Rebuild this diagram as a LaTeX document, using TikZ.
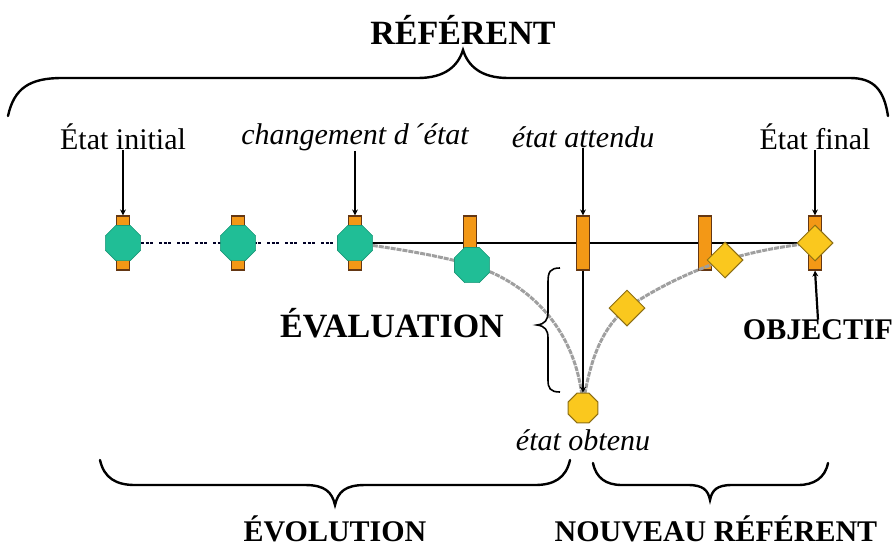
\documentclass[tikz,border=0pt]{standalone}
\usepackage{fontspec}
\setmainfont{Liberation Serif}
\usetikzlibrary{shapes.geometric,arrows.meta}
\definecolor{orangebar}{RGB}{243,152,22}
\definecolor{orangeedge}{RGB}{100,55,20}
\definecolor{greenhex}{RGB}{32,190,150}
\definecolor{yellowst}{RGB}{250,200,30}
\definecolor{yellowedge}{RGB}{140,110,20}
\tikzset{
  lbl/.style={font=\fontsize{30}{32}\selectfont, inner sep=0pt},
  ilbl/.style={font=\fontsize{30}{32}\selectfont\itshape, inner sep=0pt},
  blbl/.style={font=\fontsize{30}{32}\selectfont\bfseries, inner sep=0pt},
  bar/.style={rectangle, draw=orangeedge, line width=1.2pt, fill=orangebar, minimum width=13pt, minimum height=54pt, inner sep=0pt},
  hexg/.style={regular polygon, regular polygon sides=8, fill=greenhex, draw=greenhex!80!black, line width=0.6pt, minimum size=38pt, inner sep=0pt},
  yoct/.style={regular polygon, regular polygon sides=8, fill=yellowst, draw=yellowedge, line width=1pt, minimum size=32pt, inner sep=0pt},
  ydia/.style={diamond, fill=yellowst, draw=yellowedge, line width=1pt, minimum size=36pt, inner sep=0pt},
  mainline/.style={line width=2.4pt, black},
  dotline/.style={line width=2.4pt, black!85!blue, dash pattern=on 3pt off 1.5pt on 3pt off 1.5pt on 3pt off 6pt},
  grayline/.style={line width=3pt, gray!75, dash pattern=on 5pt off 1pt},
  arr/.style={line width=2.2pt, -{Stealth[length=6pt,width=6pt]}},
  bracel/.style={line width=2.4pt, black, line cap=round}
}
\begin{document}
\begin{tikzpicture}[x=1pt,y=-1pt]
\useasboundingbox (0,0) rectangle (894,550);
% titles
\node[blbl, font=\fontsize{34}{36}\selectfont\bfseries] (ref) at (463,30) {RÉFÉRENT};
\draw[bracel] (8,116) .. controls (14,88) and (30,78) .. (62,78) -- (418,78) .. controls (445,78) and (458,66) .. (463,50) .. controls (468,66) and (481,78) .. (508,78) -- (850,78) .. controls (874,78) and (884,90) .. (888,116);
% labels
\node[lbl] (init) at (123,137) {État initial};
\node[ilbl] (chg) at (355,137) {changement d\,´état};
\node[ilbl] (att) at (583,137) {état attendu};
\node[lbl] (fin) at (815,137) {État final};
% lines
\draw[dotline] (123,243) -- (355,243);
\draw[mainline] (355,243) -- (815,243);
% bars
\node[bar] (r1) at (123,243) {};
\node[bar] (r2) at (238,243) {};
\node[bar] (r3) at (355,243) {};
\node[bar] (r4) at (470,243) {};
\node[bar] (r5) at (583,243) {};
\node[bar] (r6) at (705,243) {};
\node[bar] (r7) at (815,243) {};
% arrows from labels
\draw[arr] (init.south) -- (r1.north);
\draw[arr] (chg.south) -- (r3.north);
\draw[arr] (att.south) -- (r5.north);
\draw[arr] (fin.south) -- (r7.north);
% states
\coordinate (g3c) at (355,243);
\coordinate (oc) at (583,406);
\draw[grayline] (g3c) .. controls (400,249) and (440,256) .. (472,265) .. controls (535,285) and (578,335) .. (oc);
\draw[grayline] (oc) .. controls (590,355) and (605,325) .. (627,308) .. controls (660,285) and (700,268) .. (725,260) .. controls (760,250) and (790,245) .. (815,243);
\node[hexg] (g1) at (123,243) {};
\node[hexg] (g2) at (238,243) {};
\node[hexg] (g3) at (355,243) {};
\node[hexg] (g4) at (472,265) {};
\node[yoct] (o) at (583,408) {};
\node[ydia] (d1) at (627,308) {};
\node[ydia] (d2) at (725,260) {};
\node[ydia] (d3) at (815,243) {};
\draw[arr] (r5.south) -- (o.north);
% objectif
\node[blbl] (obj) at (818,330) {OBJECTIF};
\draw[arr] (obj.north) -- (r7.south);
% evaluation
\node[blbl, font=\fontsize{34}{36}\selectfont\bfseries] (eval) at (392,323) {ÉVALUATION};
\draw[line width=1.6pt] (560,268) .. controls (550,268) and (548,272) .. (548,282) -- (548,312) .. controls (548,320) and (545,324) .. (537,325) .. controls (545,326) and (548,330) .. (548,338) -- (548,380) .. controls (548,388) and (550,392) .. (560,392);
\node[ilbl] (obt) at (583,440) {état obtenu};
% bottom braces
\draw[bracel] (100,460) .. controls (104,478) and (116,485) .. (135,485) -- (305,485) .. controls (325,485) and (332,492) .. (335,505) .. controls (338,492) and (345,485) .. (365,485) -- (535,485) .. controls (554,485) and (566,478) .. (570,460);
\draw[bracel] (593,463) .. controls (596,478) and (606,485) .. (622,485) -- (688,485) .. controls (703,485) and (708,490) .. (710,500) .. controls (712,490) and (717,485) .. (732,485) -- (798,485) .. controls (814,485) and (825,478) .. (828,463);
\node[blbl] (evo) at (335,529) {ÉVOLUTION};
\node[blbl] (nouv) at (716,529) {NOUVEAU RÉFÉRENT};
\end{tikzpicture}
\end{document}
